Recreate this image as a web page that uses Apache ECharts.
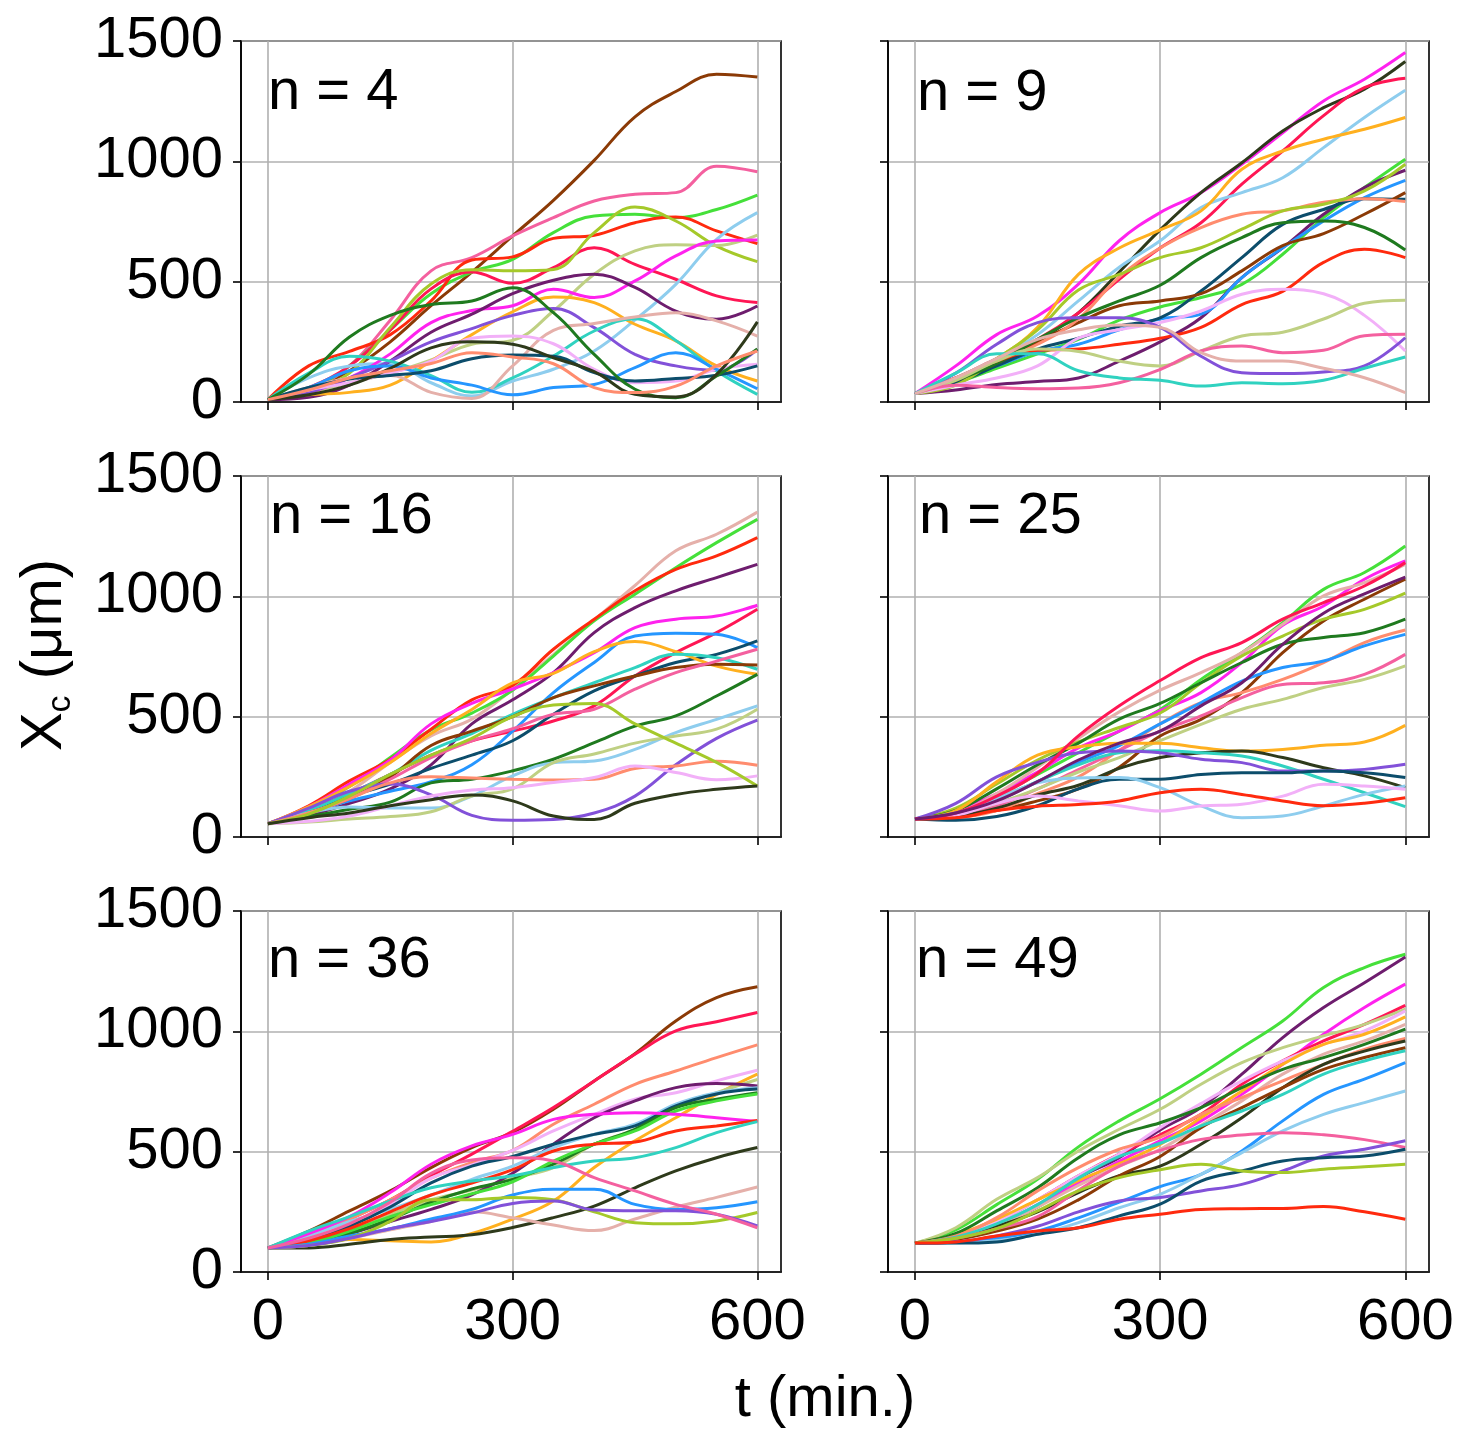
<!DOCTYPE html>
<html>
<head>
<meta charset="utf-8">
<script src="https://cdn.jsdelivr.net/npm/echarts@6/dist/echarts.min.js"></script>
<style>
  html, body {margin: 0; padding: 0; background: #fff;}
  #chart {width: 1481px; height: 1442px;}
</style>
</head>
<body>
<div id="chart"></div>
<script>
// sampling times (min.)
const times = [0, 50, 100, 150, 200, 250, 300, 350, 400, 450, 500, 550, 600]
const xTicks = [0, 300, 600]
const yTicks = [0, 500, 1000, 1500]

const palette = {
  brown: '#8b3a06', hotpink: '#f4609f', lime: '#45e03a', red: '#ff2a0e',
  crimson: '#ff1654', yellowgreen: '#a5c92a', khaki: '#bfd083', skyblue: '#8ecdee',
  magenta: '#ff22ee', darkpurple: '#6e1d6e', orange: '#ffb01f', mediumpurple: '#8251d9',
  turquoise: '#30d2c0', rosybrown: '#e5b0aa', plum: '#f2b0f8', dodgerblue: '#2596ff',
  darkslate: '#0c4d6b', darkgreen: '#1f7a1f', darkolive: '#2e3a1b', salmon: '#ff8c6e',
}

// X_c (um) per cell, one array per colour
const n4 = {
  brown: [10, 50, 130, 250, 400, 540, 690, 838, 1004, 1185, 1290, 1362, 1350],
  hotpink: [10, 50, 150, 340, 545, 600, 690, 766, 835, 863, 870, 980, 957],
  lime: [10, 50, 150, 300, 450, 540, 593, 704, 773, 780, 766, 800, 860],
  red: [10, 150, 210, 280, 420, 590, 603, 680, 693, 745, 769, 711, 658],
  crimson: [10, 60, 150, 300, 470, 540, 493, 558, 641, 572, 510, 441, 413],
  yellowgreen: [10, 50, 120, 310, 490, 550, 545, 551, 704, 810, 752, 648, 583],
  khaki: [10, 40, 80, 120, 175, 240, 256, 378, 531, 628, 653, 650, 693],
  skyblue: [10, 100, 150, 160, 80, 25, 87, 136, 212, 341, 489, 676, 787],
  magenta: [10, 40, 100, 200, 330, 380, 400, 468, 434, 503, 607, 669, 673],
  darkpurple: [10, 20, 70, 170, 290, 365, 450, 506, 531, 476, 378, 344, 399],
  orange: [10, 30, 40, 70, 170, 280, 375, 436, 413, 323, 254, 150, 87],
  mediumpurple: [10, 40, 100, 170, 250, 305, 360, 388, 309, 198, 150, 132, 219],
  turquoise: [10, 120, 190, 170, 110, 40, 100, 191, 295, 346, 256, 129, 32],
  rosybrown: [10, 60, 100, 110, 40, 15, 150, 298, 326, 353, 371, 337, 274],
  plum: [10, 50, 80, 120, 170, 265, 274, 242, 136, 80, 87, 136, 157],
  dodgerblue: [10, 60, 130, 150, 100, 70, 30, 60, 73, 143, 205, 136, 55],
  darkslate: [10, 60, 95, 110, 130, 180, 195, 190, 122, 87, 98, 111, 150],
  darkgreen: [10, 115, 270, 360, 405, 420, 475, 371, 198, 53, 18, 108, 220],
  darkolive: [10, 30, 70, 140, 225, 250, 240, 184, 126, 32, 21, 115, 333],
  salmon: [10, 50, 100, 130, 160, 205, 187, 159, 60, 39, 66, 150, 212],
}

const n9 = {
  magenta: [35, 150, 280, 357, 490, 670, 787, 870, 988, 1119, 1251, 1341, 1452],
  darkolive: [35, 80, 150, 250, 370, 540, 715, 870, 994, 1126, 1223, 1300, 1415],
  crimson: [35, 100, 180, 260, 370, 510, 640, 745, 905, 1043, 1190, 1306, 1345],
  skyblue: [35, 100, 180, 280, 420, 560, 670, 808, 870, 932, 1057, 1182, 1295],
  orange: [35, 90, 180, 310, 530, 640, 715, 794, 967, 1043, 1092, 1133, 1182],
  lime: [35, 80, 140, 200, 260, 340, 395, 434, 489, 614, 766, 891, 1009],
  darkpurple: [35, 50, 73, 85, 100, 170, 250, 350, 517, 641, 780, 891, 963],
  dodgerblue: [35, 90, 150, 210, 240, 300, 345, 365, 517, 641, 752, 849, 921],
  darkslate: [35, 80, 150, 220, 265, 315, 350, 461, 600, 738, 800, 845, 842],
  brown: [35, 90, 160, 250, 330, 400, 420, 450, 545, 650, 700, 780, 870],
  salmon: [35, 100, 170, 240, 345, 520, 640, 725, 780, 795, 830, 845, 833],
  yellowgreen: [35, 70, 180, 300, 465, 530, 600, 641, 718, 794, 822, 877, 988],
  darkgreen: [35, 90, 160, 260, 350, 420, 485, 600, 683, 745, 752, 725, 632],
  red: [35, 100, 170, 215, 220, 240, 265, 310, 405, 460, 580, 635, 600],
  plum: [35, 70, 100, 150, 265, 300, 330, 378, 448, 468, 450, 360, 212],
  khaki: [35, 90, 170, 220, 210, 170, 150, 212, 274, 290, 345, 410, 423],
  hotpink: [35, 70, 60, 55, 58, 80, 135, 212, 233, 205, 215, 275, 281],
  mediumpurple: [35, 120, 240, 330, 350, 350, 310, 190, 122, 118, 125, 150, 267],
  turquoise: [35, 120, 200, 200, 130, 100, 90, 66, 80, 76, 90, 140, 187],
  rosybrown: [35, 100, 180, 260, 300, 320, 310, 205, 170, 170, 140, 101, 39],
}

const n16 = {
  rosybrown: [55, 110, 190, 310, 420, 490, 614, 758, 902, 1045, 1189, 1258, 1350],
  lime: [55, 120, 210, 330, 445, 515, 610, 752, 898, 1009, 1119, 1223, 1320],
  red: [55, 130, 233, 323, 448, 570, 630, 780, 905, 1023, 1112, 1168, 1244],
  darkpurple: [55, 90, 140, 200, 300, 470, 570, 683, 849, 953, 1023, 1078, 1133],
  magenta: [55, 125, 220, 320, 470, 555, 615, 683, 766, 870, 905, 918, 963],
  crimson: [55, 110, 180, 260, 340, 400, 440, 482, 545, 669, 766, 849, 946],
  dodgerblue: [55, 100, 150, 190, 230, 300, 440, 600, 725, 835, 847, 842, 787],
  darkslate: [55, 110, 170, 220, 285, 340, 400, 510, 607, 669, 725, 759, 815],
  orange: [55, 125, 210, 310, 430, 530, 640, 680, 770, 812, 770, 710, 676],
  turquoise: [55, 110, 180, 260, 360, 430, 510, 579, 641, 704, 759, 745, 697],
  brown: [55, 100, 160, 250, 380, 440, 500, 579, 628, 669, 704, 718, 715],
  hotpink: [55, 100, 160, 240, 330, 400, 450, 510, 531, 614, 683, 731, 780],
  darkgreen: [55, 85, 115, 145, 225, 240, 275, 323, 392, 461, 503, 586, 676],
  skyblue: [55, 100, 125, 120, 120, 170, 254, 309, 316, 364, 434, 489, 545],
  khaki: [55, 62, 75, 85, 105, 170, 200, 309, 345, 390, 420, 448, 531],
  mediumpurple: [55, 120, 190, 220, 175, 90, 70, 73, 100, 170, 300, 410, 486],
  salmon: [55, 100, 160, 225, 250, 245, 240, 237, 240, 285, 295, 315, 298],
  plum: [55, 65, 87, 129, 170, 195, 205, 226, 247, 295, 268, 238, 254],
  yellowgreen: [55, 95, 170, 260, 340, 410, 500, 548, 555, 470, 390, 310, 212],
  darkolive: [55, 80, 100, 130, 155, 175, 150, 87, 73, 140, 177, 198, 212],
}

const n25 = {
  lime: [75, 100, 170, 260, 350, 440, 530, 655, 766, 891, 1029, 1099, 1209],
  magenta: [75, 110, 180, 270, 370, 440, 525, 600, 725, 880, 960, 1071, 1147],
  rosybrown: [75, 100, 180, 290, 410, 520, 610, 683, 766, 884, 1002, 1057, 1133],
  brown: [75, 90, 110, 150, 200, 290, 420, 489, 600, 766, 898, 988, 1071],
  yellowgreen: [75, 120, 220, 320, 395, 455, 515, 640, 752, 835, 905, 946, 1013],
  darkgreen: [75, 110, 200, 300, 390, 490, 555, 641, 725, 801, 829, 849, 905],
  salmon: [75, 80, 110, 180, 250, 360, 470, 558, 600, 655, 725, 808, 860],
  dodgerblue: [75, 95, 150, 230, 310, 380, 470, 558, 648, 704, 731, 794, 842],
  hotpink: [75, 90, 130, 200, 280, 360, 440, 503, 579, 634, 641, 676, 759],
  khaki: [75, 95, 140, 200, 270, 330, 400, 468, 531, 572, 621, 655, 711],
  orange: [75, 110, 230, 340, 375, 390, 390, 371, 357, 364, 381, 395, 464],
  darkolive: [75, 85, 120, 175, 215, 285, 330, 350, 357, 330, 288, 254, 205],
  turquoise: [75, 100, 160, 230, 300, 350, 358, 350, 337, 295, 240, 184, 126],
  mediumpurple: [75, 140, 250, 310, 350, 357, 350, 323, 309, 274, 274, 281, 302],
  darkslate: [75, 70, 85, 130, 200, 240, 240, 260, 267, 267, 274, 267, 247],
  skyblue: [75, 100, 160, 225, 245, 247, 205, 129, 80, 87, 129, 177, 212],
  plum: [75, 90, 140, 170, 150, 130, 108, 129, 136, 170, 219, 212, 198],
  red: [75, 80, 110, 128, 135, 150, 184, 198, 177, 150, 130, 140, 163],
  crimson: [75, 100, 170, 265, 420, 545, 650, 745, 808, 905, 974, 1043, 1140],
  darkpurple: [75, 100, 150, 230, 320, 390, 440, 545, 641, 800, 930, 1010, 1080],
}

const n36 = {
  brown: [100, 170, 254, 337, 434, 517, 580, 676, 794, 907, 1043, 1140, 1185],
  crimson: [100, 150, 220, 300, 400, 490, 585, 683, 794, 905, 1002, 1040, 1078],
  salmon: [100, 150, 220, 300, 390, 455, 505, 614, 697, 780, 835, 891, 944],
  plum: [100, 140, 200, 280, 390, 445, 505, 586, 655, 718, 745, 794, 838],
  orange: [100, 110, 135, 130, 125, 160, 220, 295, 434, 545, 641, 738, 822],
  khaki: [100, 130, 180, 240, 300, 340, 390, 434, 531, 593, 683, 745, 800],
  darkpurple: [100, 120, 160, 210, 260, 320, 410, 531, 641, 711, 766, 783, 773],
  skyblue: [100, 150, 210, 260, 320, 385, 440, 517, 572, 614, 697, 745, 766],
  darkslate: [100, 130, 190, 270, 370, 440, 480, 531, 572, 607, 690, 740, 760],
  darkgreen: [100, 120, 160, 220, 290, 345, 385, 448, 531, 593, 683, 718, 745],
  lime: [100, 120, 170, 230, 280, 325, 375, 461, 531, 586, 669, 711, 740],
  magenta: [100, 160, 230, 330, 448, 524, 572, 634, 655, 662, 655, 641, 625],
  red: [100, 130, 180, 250, 320, 370, 425, 503, 531, 540, 586, 607, 630],
  turquoise: [100, 170, 230, 295, 350, 378, 400, 434, 461, 475, 517, 579, 625],
  darkolive: [100, 100, 115, 135, 145, 155, 185, 226, 274, 350, 420, 475, 517],
  rosybrown: [100, 110, 140, 175, 210, 250, 225, 195, 172, 220, 270, 310, 353],
  dodgerblue: [100, 115, 150, 180, 220, 260, 320, 344, 344, 281, 260, 267, 292],
  yellowgreen: [100, 110, 140, 210, 300, 300, 310, 300, 250, 205, 200, 212, 247],
  mediumpurple: [100, 110, 140, 180, 210, 245, 285, 295, 258, 255, 255, 240, 191],
  hotpink: [100, 140, 200, 290, 410, 465, 475, 461, 392, 337, 281, 240, 184],
}

const n49 = {
  lime: [120, 175, 280, 385, 520, 628, 720, 822, 933, 1043, 1182, 1265, 1320],
  darkpurple: [120, 140, 200, 270, 390, 475, 590, 683, 822, 974, 1099, 1202, 1309],
  magenta: [120, 140, 190, 280, 370, 460, 545, 628, 738, 863, 988, 1099, 1196],
  crimson: [120, 150, 210, 300, 400, 490, 570, 655, 780, 877, 960, 1029, 1108],
  khaki: [120, 184, 302, 392, 503, 593, 676, 780, 870, 932, 981, 1029, 1092],
  plum: [120, 150, 210, 300, 400, 490, 600, 700, 794, 877, 946, 1002, 1085],
  orange: [120, 155, 220, 300, 380, 450, 530, 641, 752, 863, 946, 988, 1060],
  rosybrown: [120, 140, 190, 270, 360, 440, 510, 610, 711, 822, 905, 960, 1029],
  darkgreen: [120, 160, 254, 350, 475, 570, 620, 683, 766, 842, 891, 946, 1009],
  salmon: [120, 150, 226, 337, 434, 510, 560, 655, 725, 794, 863, 925, 970],
  darkolive: [120, 140, 190, 250, 330, 400, 440, 531, 641, 766, 863, 918, 960],
  brown: [120, 135, 170, 220, 300, 400, 480, 600, 683, 766, 842, 891, 932],
  turquoise: [120, 145, 200, 280, 390, 480, 535, 607, 669, 738, 822, 877, 919],
  dodgerblue: [120, 125, 140, 170, 225, 290, 355, 406, 503, 628, 738, 801, 870],
  skyblue: [120, 122, 130, 157, 205, 267, 323, 406, 496, 586, 655, 704, 752],
  hotpink: [120, 140, 180, 230, 340, 440, 505, 551, 569, 579, 570, 550, 517],
  mediumpurple: [120, 125, 150, 190, 250, 295, 310, 337, 364, 420, 482, 510, 545],
  darkslate: [120, 120, 125, 157, 184, 233, 282, 378, 420, 461, 475, 482, 510],
  yellowgreen: [120, 140, 180, 254, 337, 392, 425, 448, 420, 413, 427, 437, 448],
  red: [120, 125, 150, 170, 184, 219, 240, 260, 263, 264, 272, 250, 219],
}

const panelLabels = ['n = 4', 'n = 9', 'n = 16', 'n = 25', 'n = 36', 'n = 49']
const panelData = [n4, n9, n16, n25, n36, n49]

const font = "'Liberation Sans', Arial, sans-serif"
const fontSize = 58
const lefts = [241, 888]
const widths = [540, 541]
const tops = [41, 476, 911]
const plotH = 361
// where the "n = .." text sits in each panel
const labelPos = [[268, 93], [917, 94], [270, 517], [919, 517], [268, 961], [916, 961]]

const chart = echarts.init(document.getElementById('chart'), null, {renderer: 'canvas'})

const grids = [], xAxes = [], yAxes = [], series = [], graphics = []

panelData.forEach(function (data, i) {
  const col = i % 2, row = Math.floor(i / 2)
  grids.push({
    left: lefts[col], top: tops[row], width: widths[col], height: plotH,
    show: true, borderColor: '#000', borderWidth: 1.6, backgroundColor: 'transparent',
  })
  xAxes.push({
    type: 'value', gridIndex: i, min: -33, max: 629,
    axisLine: {show: true, onZero: false, lineStyle: {color: '#000', width: 1.6}},
    axisTick: {show: true, length: 8, customValues: xTicks, lineStyle: {color: '#000', width: 1.6}},
    axisLabel: {show: row === 2, customValues: xTicks, margin: 22, fontSize: fontSize, color: '#000', fontFamily: font},
    splitLine: {show: true, lineStyle: {color: '#b0b0b0', width: 1.6}},
  })
  yAxes.push({
    type: 'value', gridIndex: i, min: 0, max: 1500, interval: 500,
    axisLine: {show: true, onZero: false, lineStyle: {color: '#000', width: 1.6}},
    axisTick: {show: true, length: 8, lineStyle: {color: '#000', width: 1.6}},
    axisLabel: {
      show: col === 0, margin: 18, fontSize: fontSize, color: '#000', fontFamily: font,
      formatter: function (v) { return String(v) },
    },
    splitLine: {show: true, lineStyle: {color: '#b0b0b0', width: 1.6}},
  })
  Object.keys(data).forEach(function (name) {
    series.push({
      type: 'line', xAxisIndex: i, yAxisIndex: i,
      data: times.map(function (t, k) { return [t, data[name][k]] }),
      smooth: 0.4, showSymbol: false, symbol: 'none', silent: true,
      lineStyle: {width: 3, color: palette[name]},
      itemStyle: {color: palette[name]},
    })
  })
  graphics.push({
    type: 'text', x: labelPos[i][0], y: labelPos[i][1], z: 100,
    style: {text: panelLabels[i], font: fontSize + 'px ' + font, fill: '#000', verticalAlign: 'middle'},
  })
})

// axis titles
graphics.push({
  type: 'text', x: 45, y: 655, rotation: Math.PI / 2,
  style: {
    text: '{x|X}{c|c}{r| (μm)}', align: 'center', verticalAlign: 'middle', fill: '#000',
    rich: {
      x: {fontSize: fontSize, fontFamily: font, lineHeight: 70, verticalAlign: 'middle'},
      c: {fontSize: 34, fontFamily: font, lineHeight: 70, verticalAlign: 'bottom', padding: [0, 0, 2, 0]},
      r: {fontSize: fontSize, fontFamily: font, lineHeight: 70, verticalAlign: 'middle'},
    },
  },
})
graphics.push({
  type: 'text', x: 825, y: 1400,
  style: {text: 't (min.)', font: fontSize + 'px ' + font, fill: '#000', align: 'center', verticalAlign: 'middle'},
})

chart.setOption({
  animation: false,
  backgroundColor: '#fff',
  grid: grids,
  xAxis: xAxes,
  yAxis: yAxes,
  series: series,
  graphic: graphics,
})
</script>
</body>
</html>
